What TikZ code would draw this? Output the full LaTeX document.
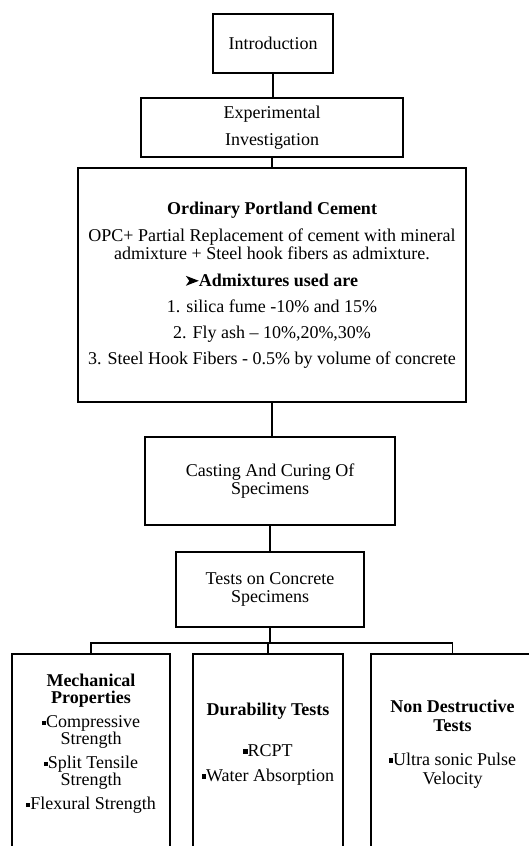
\documentclass[tikz,border=0pt]{standalone}
\usepackage{fontspec}
\setmainfont{Liberation Serif}
\newcommand\fs{\fontsize{18}{18}\selectfont}
\newcommand\fsb{\fontsize{18}{17}\selectfont}
\newcommand\sqb{\rule[0.15em]{0.23em}{0.23em}}
\newcommand\dartmark{\tikz[baseline=0pt,x=1pt,y=1pt]\fill[black] (0,0.5) -- (13,5.5) -- (0,10.5) -- (3.5,5.5) -- cycle;}
\tikzset{
  box/.style={draw, line width=1.6pt, inner sep=0pt, align=center, font=\fs},
  txt/.style={inner sep=0pt, align=center, font=\fsb},
  lnk/.style={line width=1.6pt},
}
\begin{document}
\begin{tikzpicture}[x=1pt,y=-1pt]
\useasboundingbox (0,0) rectangle (529,846);
\fill[white] (0,0) rectangle (529,846);
\clip (0,0) rectangle (529,846);

\node[box, minimum width=120, minimum height=59] (intro) at (273,43.5) {Introduction};
\node[box, minimum width=262, minimum height=59] (exp) at (272,127.5) {Experimental\\[9pt]Investigation};
\node[box, minimum width=388, minimum height=234] (opc) at (272,285)
  {\textbf{Ordinary Portland Cement}\\[9pt]
   OPC+ Partial Replacement of cement with mineral\\
   admixture + Steel hook fibers as admixture.\\[9pt]
   \dartmark\textbf{Admixtures used are}\\[8pt]
   1. silica fume -10\% and 15\%\\[8pt]
   2. Fly ash -- 10\%,20\%,30\%\\[8pt]
   3. Steel Hook Fibers - 0.5\% by volume of concrete};
\node[box, minimum width=250, minimum height=88] (cast) at (270,481) {Casting And Curing Of\\Specimens};
\node[box, minimum width=188, minimum height=75] (tests) at (270,589.5) {Tests on Concrete\\Specimens};

\node[box, minimum width=158, minimum height=246] (mech) at (91,777) {};
\node[box, minimum width=150, minimum height=246] (dur) at (268,777) {};
\node[box, minimum width=163, minimum height=246] (ndt) at (452.5,777) {};

\node[txt] (mecht) at (91,744)
  {\textbf{Mechanical}\\\textbf{Properties}\\[7pt]
   \sqb Compressive\\Strength\\[7pt]
   \sqb Split Tensile\\Strength\\[7pt]
   \sqb Flexural Strength};
\node[txt] (durt) at (268,744)
  {\textbf{Durability Tests}\\[24pt]
   \sqb RCPT\\[8pt]
   \sqb Water Absorption};
\node[txt] (ndtt) at (452.5,744)
  {\textbf{Non Destructive}\\[2pt]\textbf{Tests}\\[17pt]
   \sqb Ultra sonic Pulse\\[2pt]Velocity};

\draw[lnk] (intro.south) -- (intro.south |- exp.north);
\draw[lnk] (exp.south) -- (exp.south |- opc.north);
\draw[lnk] (opc.south) -- (opc.south |- cast.north);
\draw[lnk] (cast.south) -- (cast.south |- tests.north);
\draw[lnk] (tests.south) -- ++(0,15) coordinate (br);
\draw[lnk] (mech.north) |- (br) -| (ndt.north);
\draw[lnk] (br -| dur.north) -- (dur.north);
\end{tikzpicture}
\end{document}
